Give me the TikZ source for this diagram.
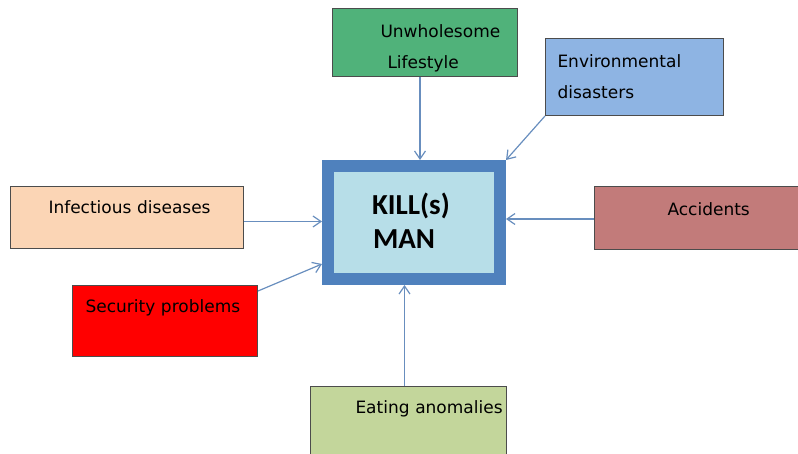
\documentclass[tikz,border=0pt]{standalone}
\usepackage{fontspec}
\usetikzlibrary{arrows.meta,positioning}
\newfontfamily\causefont{DejaVu Sans}
\newfontfamily\hubfont{Carlito}
\definecolor{hubblue}{RGB}{79,129,189}
\definecolor{hubfill}{RGB}{183,222,232}
\definecolor{flowblue}{RGB}{104,142,190}
\definecolor{lifegreen}{RGB}{80,178,122}
\definecolor{envblue}{RGB}{142,180,227}
\definecolor{infpeach}{RGB}{251,213,181}
\definecolor{accrose}{RGB}{194,123,122}
\definecolor{eatgreen}{RGB}{195,214,155}
\tikzset{
  cause/.style={draw=black!70, line width=1pt, anchor=north west, inner sep=0pt, align=left, font=\causefont\fontsize{17}{31}\selectfont},
  hub/.style={draw=hubblue, line width=12pt, fill=hubfill, anchor=north west, inner sep=0pt, align=left, font=\hubfont\bfseries\fontsize{29}{34}\selectfont},
  flow/.style={-{Straight Barb[length=8pt,width=11pt]}, line width=1.2pt, draw=flowblue}
}

\begin{document}
\begin{tikzpicture}[x=1pt, y=-1pt]
  \useasboundingbox (0,0) rectangle (798,454);

  \node[hub, text width=172pt, text height=49pt, text depth=64pt] (hub) at (322,160) {\hspace*{44pt}KILL(s)\\\hspace*{45pt}MAN};

  \node[cause, fill=lifegreen, text width=185pt, text height=29pt, text depth=39pt] (life) at (332,8) {\hspace*{48pt}Unwholesome\\\hspace*{55pt}Lifestyle};
  \node[cause, fill=envblue, text width=178pt, text height=29pt, text depth=48pt] (env) at (545,38) {\hspace*{12pt}Environmental\\\hspace*{12pt}disasters};
  \node[cause, fill=infpeach, text width=233pt, text height=27pt, text depth=35pt] (inf) at (10,186) {\hspace*{38pt}Infectious diseases};
  \node[cause, fill=red, text width=185pt, text height=27pt, text depth=44pt] (sec) at (72,285) {\hspace*{13pt}Security problems};
  \node[cause, fill=accrose, text width=210pt, text height=29pt, text depth=34pt] (acc) at (594,186) {\hspace*{73pt}Accidents};
  \node[cause, fill=eatgreen, text width=196pt, text height=27pt, text depth=53pt] (eat) at (310,386) {\hspace*{45pt}Eating anomalies};

  \draw[flow] ([xshift=-5pt]life.south) -- ([xshift=-5pt]life.south |- hub.north);
  \draw[flow] (env.south west) -- (hub.north east);
  \draw[flow] ([yshift=-4pt]inf.east) -- ([yshift=-4pt]inf.east -| hub.west);
  \draw[flow] ([yshift=-6pt]sec.north east) -- ([yshift=21pt]hub.south west);
  \draw[flow] ([yshift=-1pt]acc.west) -- ([yshift=-1pt]acc.west -| hub.east);
  \draw[flow] ([xshift=-4pt]eat.north) -- ([xshift=-4pt]eat.north |- hub.south);
\end{tikzpicture}
\end{document}
